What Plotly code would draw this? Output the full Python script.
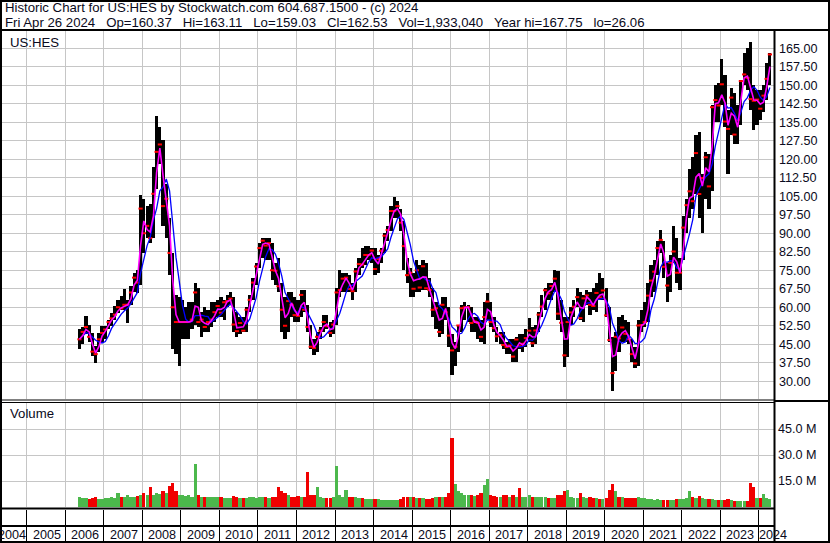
import plotly.graph_objects as go
import pandas as pd

# ---------------- data (monthly, May 2006 .. Apr 2024) ----------------
first_month = "2006-05-01"

highs = [
    51.3, 52, 56.4, 53, 49.7, 44.3, 49.7, 52.4,                       # 2006 (May-Dec)
    52.4, 55, 57.8, 60.5, 63, 64.5, 67.2, 63, 68.6, 74, 75.3, 105.7,  # 2007
    104, 101, 102, 117, 137.4, 133, 128, 110, 96, 82, 65, 64,          # 2008
    63, 60, 62, 62, 70, 68, 58, 60, 59, 62, 62, 63,                    # 2009
    64, 63, 65, 66, 64, 58, 56, 56, 60, 65, 72, 78,                    # 2010
    86, 88, 88, 88, 86, 78, 80, 70, 64, 66, 66, 64,                    # 2011
    63, 67, 67, 61, 53, 47, 50, 52, 57, 57, 54, 55,                    # 2012
    68, 75, 74, 74, 73, 70, 76, 80, 84, 85, 85, 84,                    # 2013
    84, 81, 84, 90, 93, 101, 104.7, 103, 100, 95, 80, 76,              # 2014
    74, 79, 77, 79, 78, 72, 68, 62, 61, 64, 64, 60,                    # 2015
    49, 46, 53, 61, 62, 61, 60, 56, 56, 55, 62, 65.6,                  # 2016
    62, 56, 52, 50, 50, 46, 47, 47, 48, 49, 49, 51,                    # 2017
    55.5, 52, 53, 58, 65, 68, 70, 70, 75, 74.5, 63, 56,                # 2018
    56, 60, 63, 68, 66, 65, 67, 66, 68, 70, 74, 72,                    # 2019
    68, 60, 48, 50, 56, 57, 55, 54, 47, 44, 55, 59,                    # 2020
    62, 70, 77, 79, 87, 91.4, 87, 78, 81, 93, 88, 80,                  # 2021
    97, 104, 116, 121, 130, 131, 114, 123, 122, 142, 150, 151,         # 2022
    160.5, 154, 140, 149, 147, 142, 152, 163, 165, 167.7, 150, 148,    # 2023
    148, 150, 159, 163.1,                                              # 2024 (Jan-Apr)
]

lows = [
    43.2, 45, 49, 46, 40.2, 37.5, 42, 46,
    47, 51, 52.4, 55, 57.8, 59, 59, 53.7, 61, 66, 65.9, 69,
    82, 88, 86, 88, 108, 118, 93, 88, 73, 43, 41, 36,
    47, 47, 47, 51, 53, 52, 48, 50, 50, 52, 54, 56,
    56, 55, 60, 61, 50, 48, 49, 50, 50, 58, 63, 69,
    76, 80, 79, 79, 71, 69, 66, 50, 47, 50, 56, 54,
    54, 56, 58, 50, 43, 40.5, 42, 47, 50, 51, 48, 49,
    53, 64, 66, 66, 66, 63, 66, 73, 76, 77, 79, 78,
    73, 74, 78, 82, 87, 91, 96, 96, 91, 75, 70, 64,
    64, 66, 66, 67, 67, 64, 56, 51, 48, 49, 55, 44,
    32.6, 36, 42, 50, 55, 54, 50, 50, 47, 46, 45, 55,
    52, 50, 46, 45, 43, 41, 41, 38, 38, 43, 42, 44,
    46, 44, 45, 50, 56, 59, 63, 63, 66, 55, 50, 35.6,
    40, 53, 56, 60, 55, 54, 61, 57, 59, 58, 63, 63,
    56, 46, 26, 34, 42, 46, 46, 45, 38, 35.5, 36, 50,
    52, 54, 64, 66, 73, 82, 72, 62, 66, 78, 70, 67,
    79, 90, 96, 100, 106, 96, 90, 104, 100, 107, 135, 135,
    142, 133, 114, 130, 126, 126, 134, 150, 148, 140, 131.9, 134,
    136, 139, 144, 150,
]

closes = [
    47, 50, 52, 48, 42, 41, 47, 49.6,
    51, 54, 55.5, 57, 60, 59.5, 61, 61, 66, 72, 70, 100,
    90, 93, 88, 106, 123, 126, 101, 104, 82, 60, 54, 54,
    54, 54, 54, 55, 66, 54, 55, 52, 54, 55, 58, 60.5,
    57.8, 62, 62.5, 63.5, 53, 50.3, 53.6, 50.5, 59, 63, 70, 76.5,
    84, 87, 85, 86, 75, 74.8, 68.5, 59, 52.5, 62.5, 61, 56.8,
    56.5, 65, 59, 52, 44, 43.5, 48, 50.5, 54, 52.3, 49.6, 53,
    66, 67, 71.6, 72, 67.4, 66.5, 74.5, 77.5, 77.3, 81.2, 81.2, 83,
    75.5, 79.6, 82.9, 89, 91.3, 99, 99, 101, 94.3, 84.8, 73, 74,
    67.5, 75, 68, 76.6, 67.7, 67, 59, 59.6, 50, 61, 58, 48.5,
    42.5, 44, 52.6, 59.6, 60, 60, 53.6, 54.3, 53.6, 48, 56, 62.3,
    54, 51.5, 48.2, 48.8, 44.7, 43.9, 44.5, 40, 46.9, 44.2, 45.2, 47.5,
    50.5, 45.4, 50.6, 57, 60.3, 66.9, 65.6, 68.6, 71.6, 57.4, 53.7, 40.5,
    54, 57.9, 60.2, 64.1, 55.6, 63.6, 64.8, 61, 60.5, 65.8, 64, 66.8,
    56.7, 46.7, 33.3, 48, 47.4, 51.8, 49.2, 47, 41, 37.2, 52.6, 52.8,
    54, 64.7, 70.8, 74.4, 84, 87.3, 76.4, 68.8, 78, 82.6, 74, 74,
    92.3, 101.4, 107, 103, 122.5, 105.9, 112.4, 120.8, 109, 141.1, 144, 141.8,
    150.4, 135.3, 132.3, 145, 130, 136, 151.7, 154.4, 153, 144.4, 143.7, 144.2,
    140.5, 145.8, 152.6, 162.5,
]

volumes_m = [
    5.5, 5, 5, 4.5, 5, 5.5, 4.5, 4.5,
    5, 5, 5.5, 5, 8, 6, 6, 7, 5.5, 6, 6.5, 7,
    8, 7, 11.5, 7, 8, 7.5, 9, 8, 12, 14, 9, 7,
    7, 6.5, 7, 6, 24.7, 7, 6, 5.5, 6, 6, 5.5, 5.5,
    5.5, 5, 5, 5, 6.5, 6, 5, 5, 5, 5.5, 5.5, 5,
    5.5, 6, 5.5, 5, 6, 5.5, 11.5, 9, 8, 7, 6, 6,
    6.5, 6, 6, 20, 7, 7, 11.5, 6, 5, 5, 5, 5.5,
    23.6, 7, 5.5, 10, 6, 5.5, 5.5, 5, 5, 4.5, 4.5, 4.5,
    4.5, 4.5, 4, 4, 4, 4, 4, 4, 4.5, 6, 6, 6,
    5.5, 5, 5, 5, 4.5, 4.5, 5, 6, 6, 6, 6, 8,
    40, 13, 9, 8, 7, 7, 7, 6.5, 7, 8, 12.6, 16,
    7, 6.5, 6, 6, 7, 7, 6, 7, 6, 11, 6, 6,
    7, 6, 5.5, 5.5, 6, 5.5, 5, 5, 5, 7, 7, 9.5,
    9.7, 6, 5, 5, 8.3, 5.5, 5, 5.5, 5, 5, 4.5, 4.5,
    5, 10, 13.5, 9.3, 6, 5.5, 5, 5, 5, 5, 6, 5,
    5, 4.5, 4.5, 4, 4.5, 4, 4, 4, 4, 4, 4.5, 4.5,
    4.5, 5, 9.3, 5.5, 5, 6.4, 5, 4.5, 4.5, 4.5, 4, 4,
    4, 4, 4.5, 4, 3.5, 3.5, 3.5, 3.5, 3.5, 14, 11.6, 5,
    5, 7.4, 5, 4.5,
]

price_ticks = [30, 37.5, 45, 52.5, 60, 67.5, 75, 82.5, 90, 97.5, 105, 112.5,
               120, 127.5, 135, 142.5, 150, 157.5, 165]
volume_ticks = [15e6, 30e6, 45e6]
volume_tick_labels = ["15.0 M", "30.0 M", "45.0 M"]
year_labels = list(range(2004, 2025))

header_1 = "Historic Chart for US:HES by Stockwatch.com 604.687.1500 - (c) 2024"
header_2 = ("Fri Apr 26 2024   Op=160.37   Hi=163.11   Lo=159.03   Cl=162.53   "
            "Vol=1,933,040   Year hi=167.75   lo=26.06")

# ---------------- derived series ----------------
dates = pd.date_range(first_month, periods=len(closes), freq="MS") + pd.Timedelta(days=14)
close_s = pd.Series(closes)
ma_fast = close_s.rolling(2, min_periods=1).mean()
ma_slow = close_s.rolling(5, min_periods=1).mean()
bar_span = [h - l for h, l in zip(highs, lows)]
prev = [closes[0]] + closes[:-1]
vol_colors = ["#f00000" if c < p else "#4cb84c" for c, p in zip(closes, prev)]
volumes = [v * 1e6 for v in volumes_m]
month_ms = 30 * 86400000

W, H = 830, 543
FONT = "Liberation Sans, Arial, sans-serif"
TXT = "#0a0a20"
GRID = "#c6c6c6"
HEAD_SIZE = 13.2
LAB_SIZE = 12.6


def px(xp):
    return xp / W


def py(yp):
    return 1 - yp / H


fig = go.Figure()

fig.add_trace(go.Bar(x=dates, y=bar_span, base=lows, width=month_ms,
                     marker=dict(color="black", line=dict(width=0)),
                     xaxis="x", yaxis="y", hoverinfo="skip"))
fig.add_trace(go.Scatter(x=dates, y=closes, mode="markers",
                         marker=dict(symbol="line-ew", size=3, color="red",
                                     line=dict(color="red", width=2)),
                         xaxis="x", yaxis="y", hoverinfo="skip"))
fig.add_trace(go.Scatter(x=dates, y=ma_slow, mode="lines",
                         line=dict(color="#0000ff", width=1.3),
                         xaxis="x", yaxis="y", hoverinfo="skip"))
fig.add_trace(go.Scatter(x=dates, y=ma_fast, mode="lines",
                         line=dict(color="#ff00ff", width=1.6),
                         xaxis="x", yaxis="y", hoverinfo="skip"))
fig.add_trace(go.Bar(x=dates, y=volumes, width=month_ms,
                     marker=dict(color=vol_colors, line=dict(width=0)),
                     xaxis="x2", yaxis="y2", hoverinfo="skip"))
fig.add_trace(go.Scatter(x=[dates[0]], y=[None], mode="none",
                         xaxis="x3", yaxis="y3", hoverinfo="skip"))

xdom = [px(1), px(774)]
xrange = ["2004-05-01", "2024-05-24"]
common_x = dict(domain=xdom, range=xrange, type="date", tick0="2004-01-01",
                dtick="M12", showticklabels=False, ticks="", zeroline=False,
                showline=False, showgrid=True, gridwidth=1)

fig.update_layout(
    width=W, height=H,
    margin=dict(l=0, r=0, t=0, b=0),
    paper_bgcolor="white", plot_bgcolor="white",
    showlegend=False, barmode="overlay", bargap=0,
    font=dict(family=FONT, size=LAB_SIZE, color=TXT),
    xaxis=dict(**common_x, gridcolor=GRID, anchor="y"),
    xaxis2=dict(**common_x, gridcolor=GRID, anchor="y2", matches="x"),
    xaxis3=dict(**common_x, gridcolor="black", anchor="y3", matches="x"),
    yaxis=dict(domain=[py(399), py(31)], range=[22.8, 172.0], side="right",
               anchor="x", tickvals=price_ticks,
               ticktext=[f"{v:.2f}" for v in price_ticks],
               showgrid=True, gridcolor=GRID, gridwidth=1, ticks="",
               ticklabelstandoff=4,
               zeroline=False, showline=False,
               tickfont=dict(family=FONT, size=LAB_SIZE, color=TXT)),
    yaxis2=dict(domain=[py(507), py(403)], range=[0, 60e6], side="right",
                anchor="x2", tickvals=volume_ticks, ticktext=volume_tick_labels,
                showgrid=True, gridcolor=GRID, gridwidth=1, ticks="",
                ticklabelstandoff=3,
                zeroline=False, showline=False,
                tickfont=dict(family=FONT, size=LAB_SIZE, color=TXT)),
    yaxis3=dict(domain=[py(542), py(510)], range=[0, 1], anchor="x3",
                tickvals=[0.5], showticklabels=False, showgrid=True,
                gridcolor="black", gridwidth=1.5, ticks="", zeroline=False,
                showline=False),
)

annotations = [
    dict(text=header_1, x=px(3), y=py(7.5), xref="paper", yref="paper",
         xanchor="left", yanchor="middle", showarrow=False,
         font=dict(family=FONT, size=HEAD_SIZE, color=TXT)),
    dict(text=header_2, x=px(3), y=py(22.5), xref="paper", yref="paper",
         xanchor="left", yanchor="middle", showarrow=False,
         font=dict(family=FONT, size=HEAD_SIZE, color=TXT)),
    dict(text="US:HES", x=px(8), y=py(42), xref="paper", yref="paper",
         xanchor="left", yanchor="middle", showarrow=False,
         font=dict(family=FONT, size=HEAD_SIZE, color=TXT)),
    dict(text="Volume", x=px(8), y=py(413.5), xref="paper", yref="paper",
         xanchor="left", yanchor="middle", showarrow=False,
         font=dict(family=FONT, size=HEAD_SIZE, color=TXT)),
]
for yr in year_labels:
    if yr == year_labels[0]:
        xv, shift = xrange[0], -5
    elif yr == year_labels[-1]:
        xv, shift = f"{yr}-01-01", -2
    else:
        xv, shift = f"{yr}-01-01", 4
    annotations.append(dict(text=str(yr), x=xv, y=py(534.5), xref="x3", yref="paper",
                            yanchor="middle", xanchor="left", xshift=shift,
                            showarrow=False,
                            font=dict(family=FONT, size=LAB_SIZE, color=TXT)))
fig.update_layout(annotations=annotations)

line_black = dict(color="black", width=2)
shapes = [
    dict(type="rect", xref="paper", yref="paper", x0=px(1), x1=px(829),
         y0=py(542), y1=py(1), line=line_black),
    dict(type="line", xref="paper", yref="paper", x0=0, x1=1,
         y0=py(30), y1=py(30), line=line_black),
    dict(type="line", xref="paper", yref="paper", x0=0, x1=px(774),
         y0=py(400), y1=py(400), line=dict(color="black", width=1)),
    dict(type="line", xref="paper", yref="paper", x0=0, x1=px(774),
         y0=py(402.5), y1=py(402.5), line=dict(color="black", width=1)),
    dict(type="line", xref="paper", yref="paper", x0=px(774), x1=1,
         y0=py(401), y1=py(401), line=line_black),
    dict(type="line", xref="paper", yref="paper", x0=0, x1=px(774),
         y0=py(508.5), y1=py(508.5), line=line_black),
    dict(type="line", xref="paper", yref="paper", x0=px(774.5), x1=px(774.5),
         y0=py(542), y1=py(30), line=line_black),
]
fig.update_layout(shapes=shapes)

fig.write_html("out.html",
               config={"displayModeBar": False, "staticPlot": True},
               post_script="document.body.style.margin='0';"
                           "document.body.style.padding='0';"
                           "document.body.style.overflow='hidden';")
